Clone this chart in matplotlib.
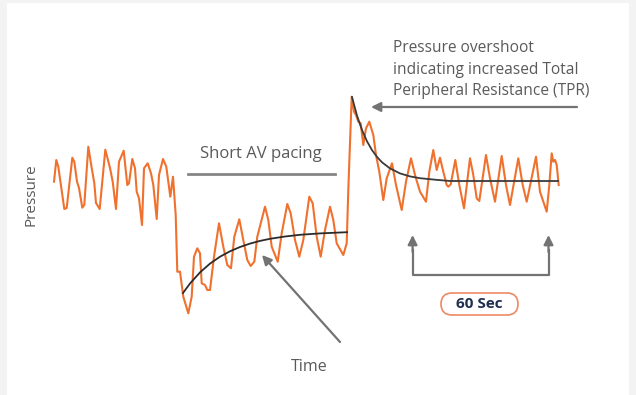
import matplotlib
matplotlib.use("Agg")
import matplotlib.pyplot as plt
from matplotlib.patches import FancyBboxPatch, Rectangle

# Drawing space: x = time (px-like units), y = pressure level (axis inverted)
trace_t = [54, 56.3, 58.3, 64.3, 66.7, 72.3, 74.3, 77, 79, 82.3, 84.3, 88.3, 91.7, 94.3, 96, 99.7,
           105.3, 110, 112.7, 116, 119, 123.7, 127.3, 129, 132.3, 135, 136.7, 139, 142, 144, 147.7,
           151, 153.3, 156.7, 159, 163, 166.3, 170.3, 173, 175.7, 177.3, 180, 183.3, 188.3, 191.7,
           194, 197.3, 200, 201.7, 205, 207.3, 210, 214, 219, 223.3, 227.3, 231, 234.3, 239.3,
           243.3, 247.3, 250.7, 254.3, 257.3, 265, 268.3, 271.7, 277.7, 281.7, 287.3, 290.7, 295,
           299.3, 303.3, 309.3, 312.7, 316.7, 320.7, 325, 330, 333.3, 336.7, 343.3, 346.7, 348.3,
           351.7, 354, 356, 358.3, 360.7, 363.3, 366, 369.3, 373.3, 376, 379.3, 383.3, 386.7, 392,
           396, 401.7, 406, 411, 415, 420, 426, 429.3, 433.3, 436.7, 440, 443.3, 446.7, 448.3,
           450.7, 455.3, 459.3, 464, 470, 473.3, 476.7, 479.3, 486, 490, 495, 501.7, 506, 510,
           518.3, 522.7, 526.7, 536, 540, 546.7, 549.3, 551.7, 553.3, 555, 556.7, 558.7]
trace_y = [181.7, 160, 166.7, 209, 208, 157.7, 161.7, 181.7, 188, 207.7, 205, 146.7, 168, 183, 203, 209,
           149.7, 168, 181.7, 209, 161.7, 150.7, 185, 183.3, 159, 168.3, 191.7, 198.3, 225, 168.3, 163.3,
           173.3, 185, 219, 175, 159, 166.7, 196.7, 176.7, 215, 271.7, 271.7, 296.7, 313.3, 296.7,
           256.7, 248.3, 253.3, 283.3, 285, 290, 290, 256.7, 223.3, 246.7, 265, 268.3, 236.7, 219.3,
           240, 260, 266, 261.7, 236.7, 206.7, 220, 246.7, 261.7, 233.3, 204, 213.3, 240,
           256.7, 240, 196.7, 203.3, 236.7, 256.7, 230, 206.7, 220, 243.3, 255, 243.3, 190,
           96.7, 111.7, 115, 121.7, 123.3, 145, 128.3, 121.7, 135, 155, 171.7, 200, 178.3, 163.3,
           185, 210, 181.7, 158.3, 175, 191.7, 201.7, 171.7, 150, 170, 157.7, 171.7, 185, 186.7,
           184.3, 160, 185, 208.3, 158.3, 175, 198.3, 201, 155, 178.3, 201.7, 156, 185, 205,
           158.3, 185, 201.7, 156.7, 191.7, 211.7, 185, 153.3, 161.7, 160, 165, 185]

# Black trend curves
recovery_t = [183, 190, 200, 210, 220, 230, 240, 250, 260, 270, 285, 300, 320, 347]
recovery_y = [293, 283.5, 272.4, 263.6, 256.7, 251.3, 247, 243.6, 240.9, 238.8, 236.5, 234.8, 233.4, 232.2]
overshoot_t = [352, 357, 362, 367, 372, 377, 382, 390, 400, 410, 420, 435, 450, 558]
overshoot_y = [97, 115.6, 130, 141.3, 150.1, 156.9, 162.3, 168.4, 173.4, 176.4, 178.2, 179.7, 181, 181]

overshoot_text = ["Pressure overshoot", "indicating increased Total", "Peripheral Resistance (TPR)"]

ORANGE = "#f0712e"
GRAY_TXT = "#5a5a5a"
GRAY_ARR = "#737373"
FONT = "Open Sans"

fig = plt.figure(figsize=(6.36, 3.95), dpi=100)
fig.patch.set_facecolor("#f3f3f3")
ax = fig.add_axes([0, 0, 1, 1])
ax.set_xlim(0, 636)
ax.set_ylim(395, 0)
ax.axis("off")
ax.add_patch(Rectangle((7, 3), 622, 395, facecolor="white", edgecolor="none", zorder=0))

ax.plot(trace_t, trace_y, color=ORANGE, lw=1.5, zorder=3)
ax.plot(recovery_t, recovery_y, color="#2b2b2b", lw=1.3, zorder=4)
ax.plot(overshoot_t, overshoot_y, color="#3a3a3a", lw=1.3, zorder=4)

ax.text(31, 195, "Pressure", rotation=90, ha="center", va="center",
        fontsize=11, color=GRAY_TXT, family=FONT)
ax.text(261, 154, "Short AV pacing", ha="center", va="center",
        fontsize=12, color=GRAY_TXT, family=FONT)
ax.plot([188, 335], [174, 174], color="#858585", lw=2)

for i, line in enumerate(overshoot_text):
    ax.text(393, 48 + i * 21.5, line, ha="left", va="center",
            fontsize=11.2, color=GRAY_TXT, family=FONT)

arrow_kw = dict(arrowstyle="-|>", color=GRAY_ARR, lw=1.6, mutation_scale=14, shrinkA=0, shrinkB=0)
ax.annotate("", xy=(371, 107), xytext=(577, 107), arrowprops=arrow_kw)
ax.annotate("", xy=(262, 255), xytext=(340, 342), arrowprops=arrow_kw)
ax.text(309, 367, "Time", ha="center", va="center", fontsize=11.5, color=GRAY_TXT, family=FONT)

# 60 s bracket
ax.plot([412.6, 412.6, 548.5, 548.5], [250, 275, 275, 250], color=GRAY_ARR, lw=1.6)
ax.annotate("", xy=(412.6, 235), xytext=(412.6, 252), arrowprops=arrow_kw)
ax.annotate("", xy=(548.5, 235), xytext=(548.5, 252), arrowprops=arrow_kw)
ax.add_patch(FancyBboxPatch((441, 293), 77, 22, boxstyle="round,pad=0,rounding_size=11",
                            facecolor="white", edgecolor="#ec8a62", lw=1.2))
ax.text(479.5, 304, "60 Sec", ha="center", va="center", fontsize=11,
        fontweight="bold", color="#1f2f4f", family=FONT)

fig.savefig("out.png", dpi=100)
